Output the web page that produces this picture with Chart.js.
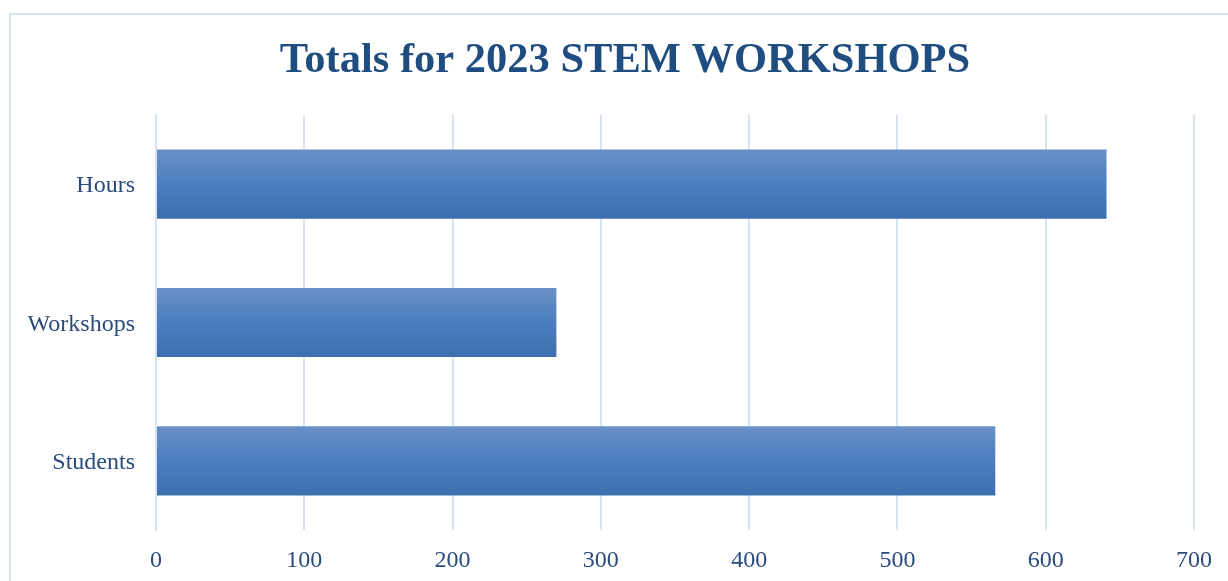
<!DOCTYPE html>
<html>
<head>
<meta charset="utf-8">
<script src="https://cdn.jsdelivr.net/npm/chart.js@4/dist/chart.umd.min.js"></script>
<style>
  html, body { margin: 0; padding: 0; background: #fff; overflow: hidden; }
  #wrap { position: relative; width: 1228px; height: 581px; }
  #frame { position: absolute; left: 9px; top: 13px; width: 1240px; height: 600px; border: 2px solid #d7e3f3; box-sizing: border-box; }
  canvas { position: absolute; left: 0; top: 0; }
</style>
</head>
<body>
<div id="wrap">
  <div id="frame"></div>
  <canvas id="chart" width="1228" height="581"></canvas>
</div>
<script>
// --- data ---
const categories = ['Hours', 'Workshops', 'Students'];
const totals = [641, 270, 566];
const xTicks = [0, 100, 200, 300, 400, 500, 600, 700];

const textColor = '#2b4b7c';
const gridColor = '#d7e3f3';

// vertical gradient for each bar, worked out from the category scale
function barFill(context) {
    const chart = context.chart;
    if (!chart.chartArea || !chart.scales.y) return '#4a7ebf';
    const y = chart.scales.y;
    const center = y.getPixelForValue(context.dataIndex);
    const half = (y.height / categories.length) * 0.25;
    const g = chart.ctx.createLinearGradient(0, center - half, 0, center + half);
    g.addColorStop(0, '#6a91c7');
    g.addColorStop(0.5, '#4a7ec0');
    g.addColorStop(1, '#3d6faf');
    return g;
}

// title box starts where the frame content does, so the title centres like the original
const titleShift = {
    id: 'titleShift',
    afterLayout(chart) {
        if (chart.titleBlock) chart.titleBlock.left += 36;
    }
};

const ctx = document.getElementById('chart').getContext('2d');
new Chart(ctx, {
    type: 'bar',
    data: {
        labels: categories,
        datasets: [{
            label: 'Totals',
            data: totals,
            backgroundColor: barFill,
            borderWidth: 0,
            barPercentage: 0.5,
            categoryPercentage: 1.0
        }]
    },
    options: {
        indexAxis: 'y',
        responsive: false,
        animation: false,
        layout: { padding: { left: 20, right: 34, top: 0, bottom: 0 } },
        scales: {
            x: {
                min: 0,
                max: 700,
                afterBuildTicks: (axis) => { axis.ticks = xTicks.map(v => ({ value: v })); },
                grid: { color: gridColor, lineWidth: 2, drawTicks: false },
                border: { display: false },
                ticks: {
                    color: textColor,
                    padding: 16,
                    font: { family: 'Liberation Serif', size: 24 }
                },
                afterFit: (axis) => { axis.height = 51; }
            },
            y: {
                grid: { display: false, drawTicks: false },
                border: { display: true, color: gridColor, width: 2 },
                ticks: {
                    color: textColor,
                    padding: 21,
                    labelOffset: 2,
                    font: { family: 'Liberation Serif', size: 24 }
                },
                afterFit: (axis) => { axis.width = 136; }
            }
        },
        plugins: {
            legend: { display: false },
            tooltip: { enabled: false },
            title: {
                display: true,
                text: 'Totals for 2023 STEM WORKSHOPS',
                color: '#1f4d80',
                font: { family: 'Liberation Serif', size: 42.5, weight: 'bold' },
                padding: { top: 36, bottom: 28 }
            }
        }
    },
    plugins: [titleShift]
});
</script>
</body>
</html>
